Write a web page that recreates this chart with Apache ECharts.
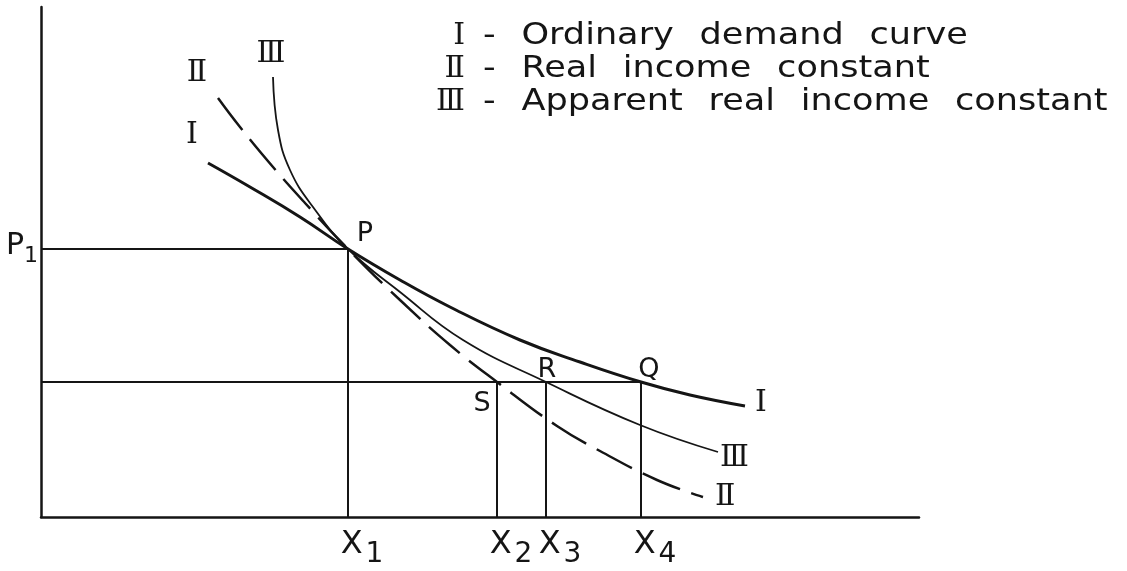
<!DOCTYPE html>
<html><head><meta charset="utf-8">
<script src="https://cdn.jsdelivr.net/npm/echarts@6/dist/echarts.min.js"></script>
<style>html,body{margin:0;padding:0;background:#fff}#c{width:1127px;height:571px}</style>
</head><body><div id="c"></div>
<script>
// Curves (quantity, price)
const curveI   = [[167,354],[209,330],[259,300],[307,268],[359,237],[409,210],[479,177],[539,155],[600,135],[649,122],[704,111]];
const curveII  = [[177,419],[199,390],[232,350],[264,314],[307,268],[359,217],[409,172],[456,135],[516,91],[559,66],[616,37],[662,20]];
const curveIII = [[232,440],[237,387],[249,347],[272,310],[307,268],[359,225],[422,177],[505,135],[599,92],[677,65]];
// Key points
const pointP = [307,268];
const pointS = [456,135];
const pointR = [505,135];
const pointQ = [600,135];
const pointNames = ['P','S','R','Q'];
// Axis tick labels
const xTickValues = [pointP[0], pointS[0], pointR[0], pointQ[0]];
const xTickSubs = ['1','2','3','4'];
const yTickValues = [pointP[1]];
const yTickSubs = ['1'];
// Curve names and legend
const curveNames = ['Ⅰ','Ⅱ','Ⅲ'];
const legendTexts = ['Ordinary demand curve','Real income constant','Apparent real income constant'];

const INK = '#151515';
const numFont = {fontFamily:'DejaVu Serif', fontSize:30, color:INK};
const subRich = {
  pad:{width:28, fontSize:30},
  x:{fontFamily:'DejaVu Sans', fontSize:32, color:INK, verticalAlign:'top'},
  s:{fontFamily:'DejaVu Sans', fontSize:28, color:INK, verticalAlign:'bottom', padding:[12,0,0,3]}
};

const chart = echarts.init(document.getElementById('c'));

function curveSeries(data, idx, lineStyle, startOffset, endOffset){
  return {
    type:'line', data:data, smooth:0.45, showSymbol:false, symbol:'none',
    lineStyle:Object.assign({color:INK}, lineStyle), z:3,
    endLabel:{show:true, formatter:curveNames[idx], offset:endOffset, distance:0,
      fontFamily:numFont.fontFamily, fontSize:numFont.fontSize, color:INK},
    markPoint:{symbol:'circle', symbolSize:1, itemStyle:{color:'rgba(0,0,0,0)'},
      label:{show:true, position:'inside', formatter:curveNames[idx], offset:startOffset,
        fontFamily:numFont.fontFamily, fontSize:numFont.fontSize, color:INK},
      data:[{coord:data[0]}]},
    animation:false
  };
}

const guideStyle = {color:INK, width:2, type:'solid'};
const guides = [
  [{coord:[0,pointP[1]]},{coord:pointP}],
  [{coord:pointP},{coord:[pointP[0],0]}],
  [{coord:[0,pointQ[1]]},{coord:pointQ}],
  [{coord:pointS},{coord:[pointS[0],0]}],
  [{coord:pointR},{coord:[pointR[0],0]}],
  [{coord:pointQ},{coord:[pointQ[0],0]}]
];

const pointOffsets = [[17,-15],[-15,22],[1,-12],[8,-12]];

const legendGraphics = [];
const lineY = [36, 69, 102];
legendTexts.forEach((t,i)=>{
  legendGraphics.push({type:'text', x:465, y:lineY[i], z:10,
    style:{text:curveNames[i], align:'right', verticalAlign:'middle', fill:INK,
      font:'30px "DejaVu Serif"'}});
  legendGraphics.push({type:'text', x:483, y:lineY[i], scaleX:1.17, z:10,
    style:{text:'-{g| }' + t.split(' ').join('{g| }'), align:'left', verticalAlign:'middle', fill:INK,
      font:'30px "DejaVu Sans"', rich:{g:{width:22, font:'30px "DejaVu Sans"'}}}});
});

chart.setOption({
  backgroundColor:'#fff',
  animation:false,
  grid:{left:41, right:208, top:7, bottom:54, containLabel:false, outerBoundsMode:'none'},
  xAxis:{type:'value', min:0, max:878, splitLine:{show:false},
    axisLine:{show:true, onZero:false, lineStyle:{color:INK, width:2.5}},
    axisTick:{show:false},
    axisLabel:{show:true, customValues:xTickValues, margin:12,
      formatter:function(v){const k=xTickValues.indexOf(v); return '{pad| }{x|X}{s|'+xTickSubs[k]+'}';},
      rich:subRich}},
  yAxis:{type:'value', min:0, max:510, splitLine:{show:false},
    axisLine:{show:true, onZero:false, lineStyle:{color:INK, width:2.5}},
    axisTick:{show:false},
    axisLabel:{show:true, customValues:yTickValues, margin:3,
      formatter:function(v){const k=yTickValues.indexOf(v); return '{x|P}{s|'+yTickSubs[k]+'}';},
      rich:{x:{fontFamily:'DejaVu Sans', fontSize:30, color:INK, verticalAlign:'top'},
            s:{fontFamily:'DejaVu Sans', fontSize:22, color:INK, verticalAlign:'bottom', padding:[14,0,0,0]}}}},
  graphic:legendGraphics,
  series:[
    curveSeries(curveI, 0, {width:3}, [-16,-28], [10,-3]),
    curveSeries(curveII, 1, {width:2.5, type:[40,12]}, [-21,-25], [12,0]),
    curveSeries(curveIII, 2, {width:1.8}, [-2,-23], [2,6]),
    {type:'line', data:[], markLine:{symbol:'none', silent:true, label:{show:false},
      lineStyle:guideStyle, data:guides}, animation:false},
    {type:'scatter', symbolSize:1, itemStyle:{color:'rgba(0,0,0,0)', opacity:1}, z:5,
      data:[pointP,pointS,pointR,pointQ].map((p,i)=>({value:p,
        label:{show:true, position:'inside', offset:pointOffsets[i], formatter:pointNames[i],
          fontFamily:'DejaVu Sans', fontSize:27, color:INK, opacity:1}})),
      animation:false}
  ]
});
</script></body></html>
